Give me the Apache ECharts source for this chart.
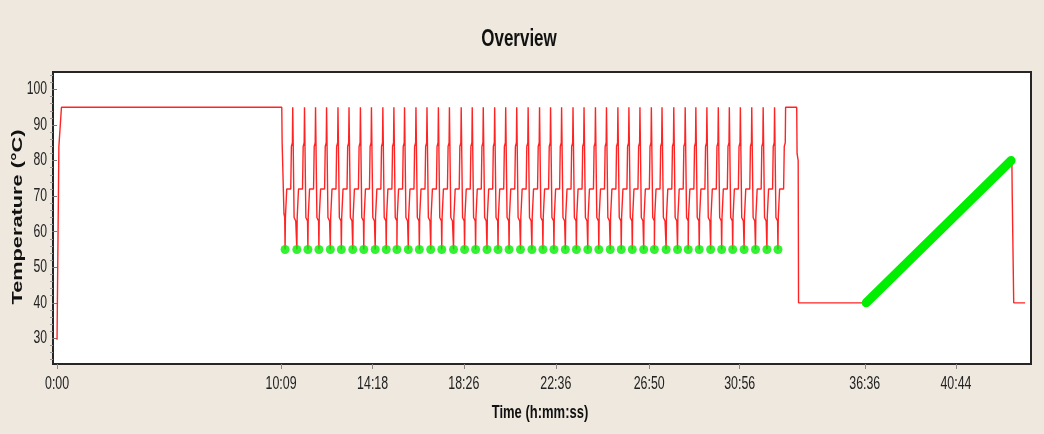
<!DOCTYPE html>
<html><head><meta charset="utf-8">
<script src="https://cdn.jsdelivr.net/npm/echarts@6/dist/echarts.min.js"></script>
<style>html,body{margin:0;padding:0;background:#EEE8DF;} #c{width:1044px;height:434px;}</style>
</head><body><div id="c"></div>
<script>
// ---- data ----
const xTickLabels = ['0:00','10:09','14:18','18:26','22:36','26:50','30:56','36:36','40:44'];
const yTickLabels = [30,40,50,60,70,80,90,100];
const yMinorTicks = [24,26,28,32,34,36,38,42,44,46,48,52,54,56,58,62,64,66,68,72,74,76,78,82,84,86,88,92,94,96,98,102,104];

// initial ramp + hot-start hold (seconds, °C)
const initialTimes = [0, 1, 3, 5, 12, 611, 612, 617, 619];
const initialTemps = [29.6, 41, 62.6, 84, 95, 95, 85, 65, 64];

// start time (s) of each of the 45 cycles = annealing points (green dots)
const cycleStarts = [620,652,682,712,743,773,804,834,865,895,924,955,985,1016,1046,1078,1108,1138,1169,1199,1229,1260,1291,1321,1351,1382,1412,1443,1473,1504,1534,1564,1595,1624,1656,1687,1716,1746,1777,1807,1837,1868,1899,1930,1960];
const annealTemp = 55;
// temperature profile inside one cycle (offset s from cycle start)
const riseOffsets = [0, 0.9, 4.5, 15.4, 17.2, 19.9, 20.8];
const riseTemps   = [55, 64, 72, 72, 84, 85, 95];
const fallOffsets = [23.6, 24.5, 29];
const fallTemps   = [95, 64, 63];

// final denature, hold, melt and end
const finalTimes = [2011, 2012, 2015, 2016, 2196, 2596, 2597, 2600, 2601, 2632];
const finalTemps = [95, 82, 80, 40, 40, 80, 70, 70, 40, 40];

// melt curve (green ramp)
const meltTimes = [2200, 2594];
const meltTemps = [40, 80];

// ---- build series ----
function toSec(s){ const p = s.split(':').map(Number); return p[0]*60 + p[1]; }
const xTickValues = xTickLabels.map(toSec);

const red = [];
initialTimes.forEach((t,i)=>red.push([t, initialTemps[i]]));
cycleStarts.forEach((s,k)=>{
  riseOffsets.forEach((o,i)=>red.push([s+o, riseTemps[i]]));
  if (k < cycleStarts.length-1) fallOffsets.forEach((o,i)=>red.push([s+o, fallTemps[i]]));
});
finalTimes.forEach((t,i)=>red.push([t, finalTemps[i]]));

const dots = cycleStarts.map(s=>[s, annealTemp]);
const melt = meltTimes.map((t,i)=>[t, meltTemps[i]]);

const Y_MIN = 22.8, Y_MAX = 104.9;
const FONT = "'Liberation Sans',Arial,sans-serif";
const STRETCH = 1.45; // the reference text is vertically stretched
const chart = echarts.init(document.getElementById('c'), null, {renderer:'canvas'});
chart.setOption({
  backgroundColor: '#EEE8DF',
  animation: false,
  grid: {left:53, right:13, top:72, bottom:70, show:true, backgroundColor:'#ffffff', borderColor:'#262626', borderWidth:2},
  xAxis: {
    type:'value', min:-11, max:2648,
    axisLine:{show:false},
    splitLine:{show:false},
    axisTick:{show:true, length:5, customValues:xTickValues, lineStyle:{color:'#888'}},
    axisLabel:{show:false}
  },
  yAxis: [{
    type:'value', min:Y_MIN, max:Y_MAX,
    axisLine:{show:false},
    splitLine:{show:false},
    axisTick:{show:true, length:5, customValues:yTickLabels, lineStyle:{color:'#777'}},
    axisLabel:{show:false}
  },{
    type:'value', min:Y_MIN, max:Y_MAX, position:'left', offset:0,
    axisLine:{show:false}, splitLine:{show:false}, axisLabel:{show:false},
    axisTick:{show:true, length:3, customValues:yMinorTicks, lineStyle:{color:'#999'}}
  }],
  series: [
    {type:'line', data:red, showSymbol:false, symbol:'none', lineStyle:{color:'#ff2424', width:1.4}, z:2},
    {type:'line', data:melt, showSymbol:false, symbol:'none', lineStyle:{color:'#00ee00', width:9, cap:'round'}, z:3},
    {type:'scatter', data:dots, symbol:'circle', symbolSize:9, itemStyle:{color:'#00ee00'}, z:4}
  ]
});

function txt(id, x, y, text, font, opts){
  return Object.assign({type:'text', id:id, x:x, y:y, scaleY:STRETCH, silent:true,
    style:{text:text, font:font, fill:'#111', align:'center', verticalAlign:'middle', textAlign:'center', textVerticalAlign:'middle'}}, opts||{});
}
const g = [];
g.push(txt('title', 519, 39, 'Overview', 'bold 17px '+FONT));
g.push(txt('xname', 540, 413, 'Time (h:mm:ss)', 'bold 13px '+FONT));
g.push({type:'text', id:'yname', x:18, y:217, rotation:Math.PI/2, scaleX:STRETCH, silent:true,
  style:{text:'Temperature (°C)', font:'bold 15px '+FONT, fill:'#111', align:'center', verticalAlign:'middle', textAlign:'center', textVerticalAlign:'middle'}});
// tick labels positioned through the axes' own scales
xTickValues.forEach((v,i)=>{
  const px = chart.convertToPixel({xAxisIndex:0}, v);
  g.push(txt('xl'+i, px, 384, xTickLabels[i], '12.4px '+FONT, {style:{text:xTickLabels[i], font:'12.4px '+FONT, fill:'#222', align:'center', verticalAlign:'middle', textAlign:'center', textVerticalAlign:'middle'}}));
});
yTickLabels.forEach((v,i)=>{
  const py = chart.convertToPixel({yAxisIndex:0}, v);
  g.push(txt('yl'+i, 47, py, String(v), '12.2px '+FONT, {style:{text:String(v), font:'12.2px '+FONT, fill:'#222', align:'right', verticalAlign:'middle', textAlign:'right', textVerticalAlign:'middle'}}));
});
chart.setOption({graphic: g});
</script></body></html>
